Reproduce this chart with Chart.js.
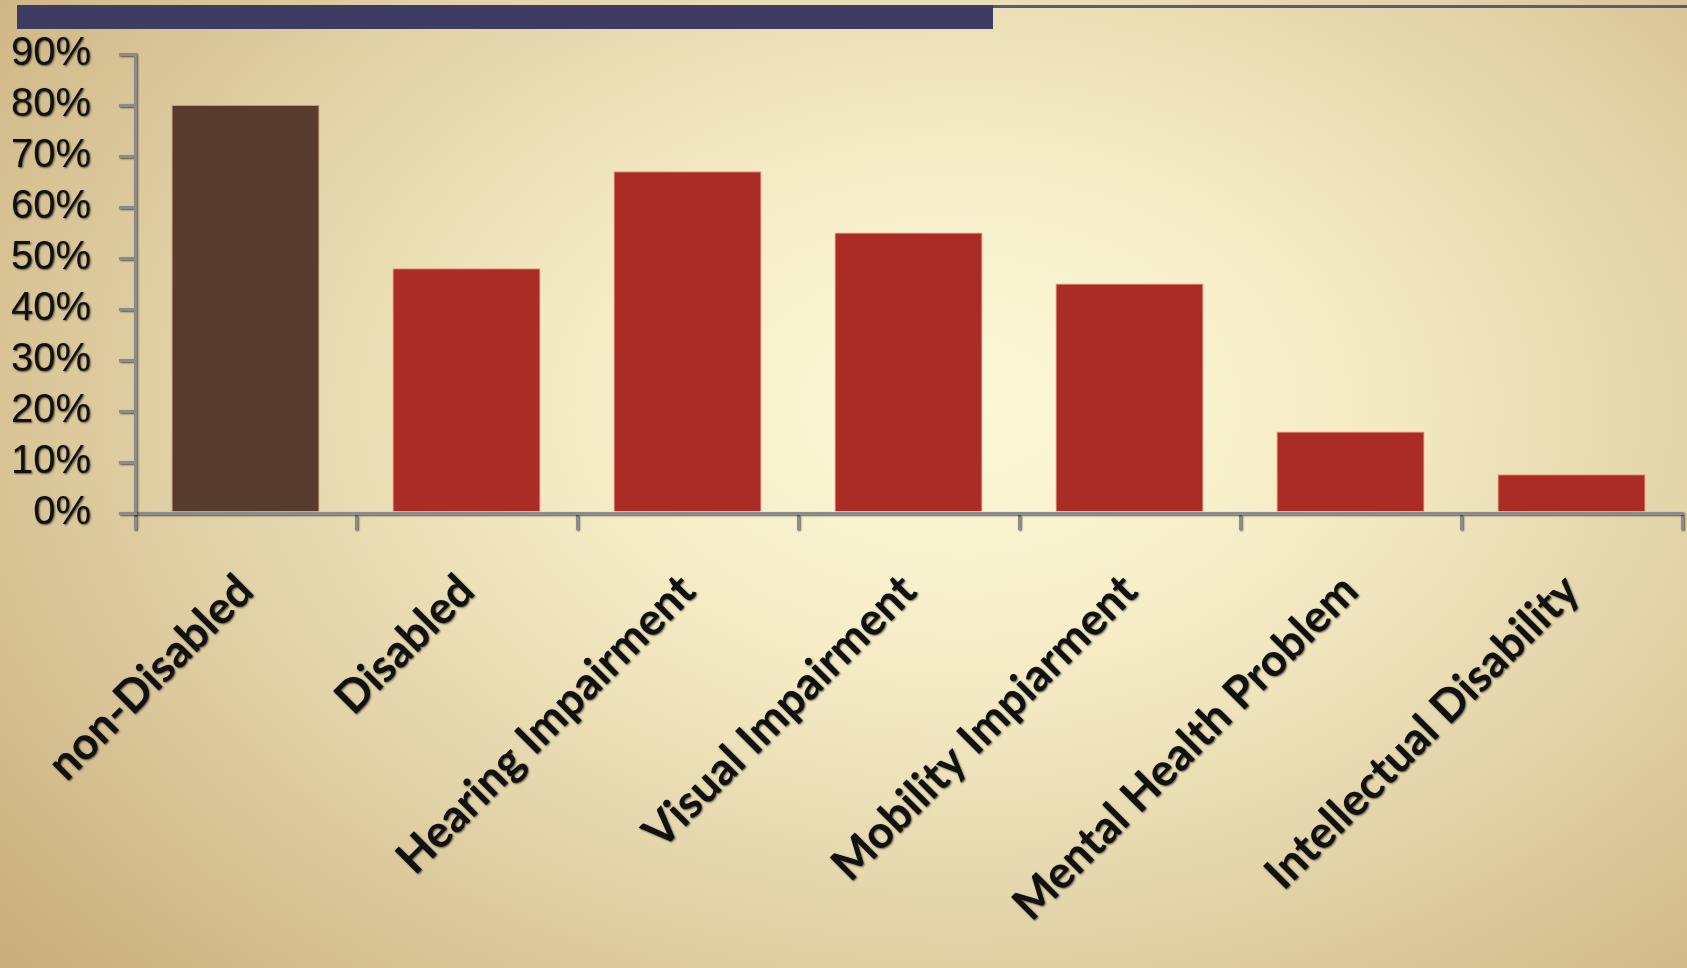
<!DOCTYPE html>
<html lang="en">
<head>
<meta charset="UTF-8">
<title>Employment by disability</title>
<script src="https://cdn.jsdelivr.net/npm/chart.js"></script>
<style>
  html, body { margin: 0; padding: 0; }
  body {
    width: 1687px; height: 968px; overflow: hidden; position: relative;
    background: radial-gradient(ellipse 75% 90% at 57% 42%, #fdf9d9 0%, #f5ecc6 30%, #e2d3a8 60%, #cfb685 90%, #c9ad7b 100%);
  }
  #topBar { position: absolute; left: 17px; top: 5px; width: 976px; height: 24px; background: #3f3c63; }
  #topLine { position: absolute; left: 993px; top: 5px; width: 694px; height: 3px; background: #5c5a78; }
  #chart { position: absolute; left: 0; top: 0; }
</style>
</head>
<body>
<div id="topBar"></div>
<div id="topLine"></div>
<canvas id="chart" width="1687" height="968"></canvas>
<script>
const categories = ['non-Disabled', 'Disabled', 'Hearing Impairment', 'Visual Impairment', 'Mobility Impiarment', 'Mental Health Problem', 'Intellectual Disability'];
const values = [80, 48, 67, 55, 45, 16, 7.6];
const barColors = ['#573b2c', '#ab2b27', '#ab2b27', '#ab2b27', '#ab2b27', '#ab2b27', '#ab2b27'];
const yMax = 90;
const yStep = 10;

// soft dark shadow on the axis text, switched off before the bars
const textShadow = {
  id: 'textShadow',
  beforeDraw(chart) {
    const c = chart.ctx;
    c.save();
    c.shadowColor = 'rgba(0,0,0,0.6)';
    c.shadowBlur = 2;
    c.shadowOffsetX = 1;
    c.shadowOffsetY = 1;
  },
  beforeDatasetsDraw(chart) {
    chart.ctx.restore();
  }
};

const ctx = document.getElementById('chart').getContext('2d');
new Chart(ctx, {
  type: 'bar',
  data: {
    labels: categories,
    datasets: [{
      data: values,
      backgroundColor: barColors,
      borderColor: 'rgba(214,120,100,0.7)',
      borderWidth: { top: 1, left: 1, right: 1, bottom: 0 },
      barPercentage: 0.67,
      categoryPercentage: 1.0
    }]
  },
  options: {
    responsive: false,
    animation: false,
    layout: { padding: { top: 54, right: 5, bottom: 0, left: 0 } },
    plugins: { legend: { display: false }, tooltip: { enabled: false } },
    scales: {
      x: {
        afterFit: s => { s.height = 455; },
        border: { color: '#8c8c8c', width: 3 },
        grid: { drawOnChartArea: false, drawTicks: true, tickLength: 17, color: '#8c8c8c', lineWidth: 3 },
        ticks: {
          color: '#111',
          font: { family: 'Lato', size: 45, weight: 'bold' },
          minRotation: 45,
          maxRotation: 45,
          padding: 34
        }
      },
      y: {
        min: 0,
        max: yMax,
        afterFit: s => { s.width = 135; },
        border: { color: '#8c8c8c', width: 3 },
        grid: { drawOnChartArea: false, drawTicks: true, tickLength: 16, color: '#8c8c8c', lineWidth: 3 },
        ticks: {
          stepSize: yStep,
          autoSkip: false,
          color: '#111',
          padding: 28,
          font: { family: "'Liberation Sans'", size: 40 },
          callback: v => v + '%'
        }
      }
    }
  },
  plugins: [textShadow]
});
</script>
</body>
</html>
